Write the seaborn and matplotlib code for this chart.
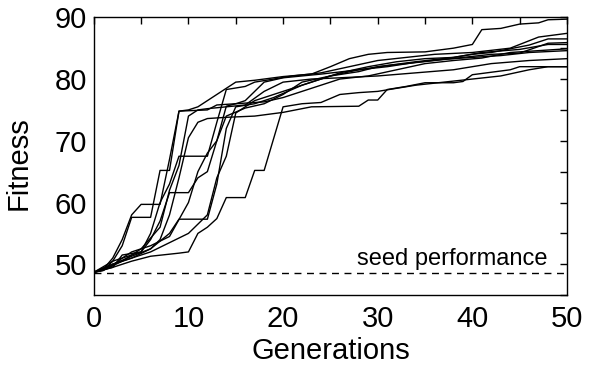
import numpy as np
import pandas as pd
import matplotlib
matplotlib.use("Agg")
import matplotlib.pyplot as plt
import seaborn as sns
from matplotlib.ticker import MultipleLocator

run1_gen = [0, 1, 2, 3, 4, 6, 7, 8, 9, 12, 13, 15, 16, 18, 20, 24, 28, 31, 34, 38, 41, 45, 48, 50]
run1_fit = [48.7, 49.0, 50.5, 53.0, 57.6, 57.6, 65.2, 65.2, 74.8, 75.0, 75.8, 76.0, 76.5, 79.5, 80.2,
            80.8, 81.5, 82.2, 82.8, 83.5, 84.3, 84.8, 85.6, 85.6]

run2_gen = [0, 1, 2, 3, 4, 5, 7, 8, 9, 10, 11, 13, 15, 17, 20, 23, 25, 27, 29, 31, 35, 38, 40, 41,
            43, 45, 47, 48, 50]
run2_fit = [48.7, 49.2, 51.0, 54.0, 58.0, 59.7, 59.7, 67.0, 74.8, 75.0, 75.5, 77.5, 79.5, 79.8, 80.4,
            80.8, 82.0, 83.3, 84.0, 84.3, 84.4, 85.0, 85.6, 88.0, 88.2, 88.9, 89.1, 89.6, 89.7]

run3_gen = [0, 2, 4, 6, 7, 8, 9, 10, 11, 12, 14, 17, 20, 23, 28, 29, 30, 31, 33, 35, 38, 39, 40, 44,
            45, 50]
run3_fit = [48.7, 50.0, 51.3, 52.5, 54.0, 58.0, 64.0, 70.5, 73.0, 73.6, 73.8, 74.0, 74.6, 75.5, 75.6,
            76.6, 76.6, 78.3, 78.8, 79.4, 79.4, 79.6, 80.7, 81.5, 82.0, 82.0]

run4_gen = [0, 2, 3, 5, 6, 7, 8, 9, 12, 13, 14, 16, 17, 19, 21, 24, 27, 30, 33, 36, 40, 44, 47, 50]
run4_fit = [48.7, 49.5, 51.5, 52.0, 55.0, 60.0, 63.0, 67.5, 67.5, 73.0, 78.3, 78.8, 79.5, 80.0, 80.5,
            81.0, 82.0, 83.0, 83.5, 84.0, 84.3, 85.0, 86.8, 87.4]

run5_gen = [0, 2, 3, 5, 6, 7, 8, 10, 11, 12, 13, 14, 15, 18, 20, 23, 26, 29, 32, 35, 38, 41, 44, 47, 50]
run5_fit = [48.7, 49.8, 51.0, 52.0, 54.0, 57.0, 61.6, 61.6, 64.0, 65.0, 70.0, 75.6, 76.0, 76.3, 77.0,
            78.5, 80.0, 80.5, 81.5, 82.5, 83.0, 83.4, 84.3, 84.6, 84.9]

run6_gen = [0, 2, 4, 6, 8, 9, 12, 13, 14, 15, 17, 19, 22, 25, 28, 31, 34, 37, 40, 43, 46, 50]
run6_fit = [48.7, 50.0, 51.0, 52.5, 55.0, 57.3, 57.3, 63.0, 72.0, 75.5, 76.0, 77.0, 79.0, 80.5, 81.5,
            82.0, 82.7, 83.2, 83.5, 83.8, 84.3, 84.6]

run7_gen = [0, 2, 4, 6, 9, 10, 11, 12, 13, 14, 16, 17, 18, 20, 22, 24, 26, 28, 30, 32, 34, 37, 40, 43,
            46, 48, 50]
run7_fit = [48.7, 49.5, 50.5, 51.3, 51.8, 52.0, 55.0, 56.0, 57.4, 60.8, 60.8, 65.2, 65.2, 75.5, 76.0,
            76.2, 77.5, 77.8, 78.0, 78.5, 79.0, 79.5, 80.0, 80.5, 81.5, 82.0, 82.0]

run8_gen = [0, 2, 3, 4, 6, 8, 10, 11, 12, 13, 14, 16, 18, 20, 22, 25, 28, 30, 33, 36, 39, 42, 45, 48, 50]
run8_fit = [48.7, 50.5, 51.0, 52.0, 53.0, 54.5, 60.0, 65.0, 68.0, 70.0, 74.0, 75.3, 76.0, 77.5, 79.5,
            80.5, 81.2, 82.0, 82.5, 83.0, 83.5, 84.0, 84.2, 85.8, 85.9]

run9_gen = [0, 1, 3, 5, 7, 8, 9, 10, 11, 12, 14, 16, 18, 20, 23, 26, 30, 34, 38, 42, 46, 50]
run9_fit = [48.7, 49.0, 50.5, 52.5, 56.0, 62.0, 66.0, 74.0, 75.0, 75.2, 75.5, 75.8, 78.0, 79.5, 80.0,
            80.2, 80.5, 81.0, 81.5, 82.5, 83.0, 83.3]

run10_gen = [0, 2, 4, 6, 8, 10, 11, 12, 13, 14, 15, 17, 20, 23, 26, 29, 32, 35, 38, 40, 42, 44, 46, 48, 50]
run10_fit = [48.7, 50.0, 51.0, 52.0, 53.5, 55.0, 56.5, 58.0, 64.0, 67.5, 74.5, 76.5, 78.0, 79.5, 81.0,
             82.0, 82.8, 83.3, 83.5, 84.0, 84.3, 84.9, 85.5, 86.5, 86.5]

seed_fitness = 48.6

runs = [(run1_gen, run1_fit), (run2_gen, run2_fit), (run3_gen, run3_fit), (run4_gen, run4_fit),
        (run5_gen, run5_fit), (run6_gen, run6_fit), (run7_gen, run7_fit), (run8_gen, run8_fit),
        (run9_gen, run9_fit), (run10_gen, run10_fit)]

frames = []
for i, (g, f) in enumerate(runs):
    frames.append(pd.DataFrame({"Generations": g, "Fitness": f, "run": i}))
df = pd.concat(frames, ignore_index=True)

sns.set_style("white", {"text.color": "black", "axes.labelcolor": "black",
                        "xtick.color": "black", "ytick.color": "black"})
plt.rcParams["font.family"] = ["Liberation Sans", "DejaVu Sans"]

fig = plt.figure(figsize=(5.9, 3.68), dpi=100)
ax = fig.add_axes([0.159, 0.198, 0.802, 0.755])

sns.lineplot(data=df, x="Generations", y="Fitness", units="run", estimator=None,
             color="black", lw=1.0, ax=ax, legend=False)
ax.axhline(seed_fitness, color="black", lw=1.0, ls=(0, (5, 4)))
ax.text(47.9, 49.9, "seed performance", ha="right", va="baseline", fontsize=17, color="black")

ax.set_xlim(0, 50)
ax.set_ylim(45, 90)
ax.xaxis.set_major_locator(MultipleLocator(10))
ax.xaxis.set_minor_locator(MultipleLocator(5))
ax.yaxis.set_major_locator(MultipleLocator(10))
ax.yaxis.set_minor_locator(MultipleLocator(5))
ax.tick_params(which="both", direction="in", top=True, right=True, length=5, width=1,
               labelsize=21, color="black", labelcolor="black")
ax.tick_params(axis="x", pad=7)
ax.tick_params(axis="y", pad=5)
ax.set_xlabel("Generations", fontsize=21, labelpad=3, color="black")
ax.set_ylabel("Fitness", fontsize=21, labelpad=16, color="black")
ax.yaxis.label.set_y(0.475)
for s in ax.spines.values():
    s.set_color("black")
    s.set_linewidth(1.0)

fig.savefig("out.png", dpi=100)
